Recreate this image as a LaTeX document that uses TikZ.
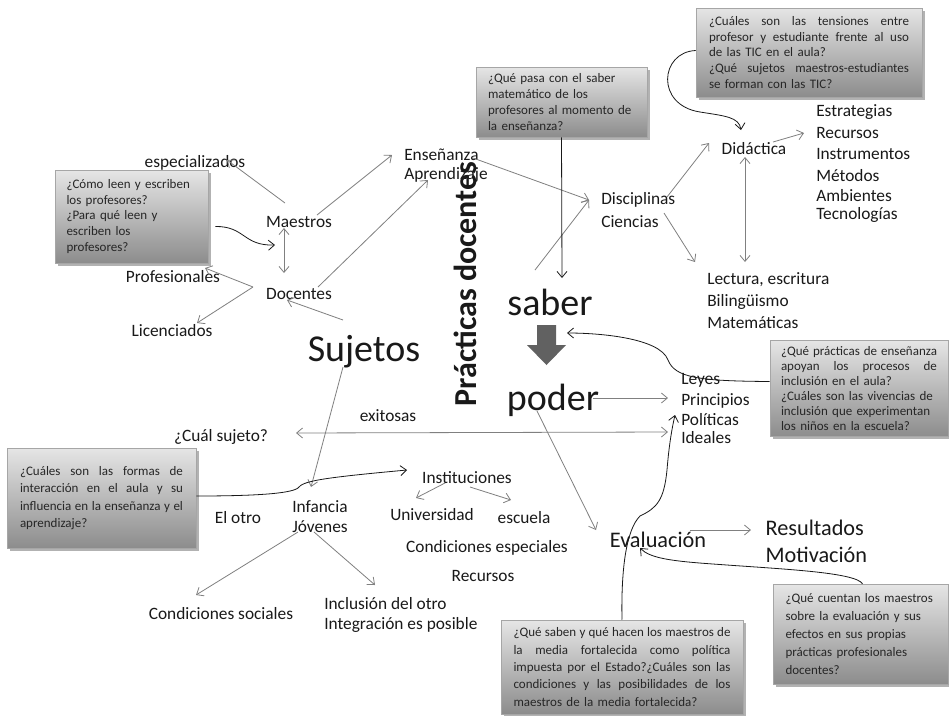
\documentclass[tikz,border=0pt]{standalone}
\usepackage{fontspec}
\setmainfont{Carlito}
\usepackage{tikz}
\usetikzlibrary{arrows.meta}
\usetikzlibrary{calc}
\newcommand{\jline}[2]{{\spaceskip=0pt\xspaceskip=0pt\relax\makebox[#1][s]{#2}}}

\begin{document}
\begin{tikzpicture}[x=0.75pt,y=0.75pt,yscale=-1,xscale=1,
  >={Straight Barb[length=4.5pt,width=7.5pt]},
  lbl/.style={inner sep=0pt, text=black!90, font=\fontsize{13}{15.6}\selectfont},
  big/.style={inner sep=1pt, text=black!90, font=\fontsize{28.5}{32}\selectfont},
  mid/.style={inner sep=1pt, text=black!90, font=\fontsize{16.7}{20}\selectfont},
  qbox/.style={draw=black!35, line width=0.4pt, top color=black!10, bottom color=black!45, preaction={fill=black!50, opacity=0.6, transform canvas={xshift=2.2pt,yshift=-2.2pt}}, inner sep=0pt, align=left, text=black!85},
  conn/.style={draw=black!50, line width=0.6pt, ->},
  curv/.style={draw=black!90, line width=0.6pt, ->}
]
\useasboundingbox (0,0) rectangle (949,715);
\fill [white] (0,0) rectangle (949,715);

% Text Node
\node [lbl] (espec) at (195,163) {especializados};
\node [lbl] (maestros) at (299,222) {Maestros};
\node [lbl] (docentes) at (299,294) {Docentes};
\node [lbl] (profes) at (173,277) {Profesionales};
\node [lbl] (licen) at (172,331) {Licenciados};
\node [big] (sujetos) at (364,352) {Sujetos};
% Text Node
\node [lbl, anchor=west] (ensen) at (404,155) {Enseñanza};
\node [lbl, anchor=west] (aprend) at (404,175) {Aprendizaje};
\node [lbl, anchor=west] (discip) at (601,200) {Disciplinas};
\node [lbl, anchor=west] (cienc) at (601,222) {Ciencias};
\node [lbl] (didac) at (754,149) {Didáctica};
% Text Node
\node [lbl, anchor=west] (estrat) at (816,112) {Estrategias};
\node [lbl, anchor=west] (recur) at (816,133) {Recursos};
\node [lbl, anchor=west] (instru) at (816,154) {Instrumentos};
\node [lbl, anchor=west] (metod) at (816,176) {Métodos};
\node [lbl, anchor=west] (ambien) at (816,196) {Ambientes};
\node [lbl, anchor=west] (tecno) at (816,215) {Tecnologías};
% Text Node
\node [lbl, anchor=west] (lectura) at (707,280) {Lectura, escritura};
\node [lbl, anchor=west] (biling) at (707,302) {Bilingüismo};
\node [lbl, anchor=west] (matem) at (707,323) {Matemáticas};
% Text Node
\node [big] (saber) at (550,302) {saber};
\node [big] (poder) at (553,400) {poder};
\node [inner sep=1pt, rotate=90, text=black!90, font=\bfseries\fontsize{24}{28}\selectfont] (practicas) at (465,284) {Prácticas docentes};
% Text Node
\node [lbl, anchor=west] (leyes) at (681,380) {Leyes};
\node [lbl, anchor=west] (princ) at (681,401) {Principios};
\node [lbl, anchor=west] (polit) at (681,420) {Políticas};
\node [lbl, anchor=west] (ideal) at (681,438) {Ideales};
% Text Node
\node [lbl] (cual) at (221,437) {¿Cuál sujeto?};
\node [lbl] (exitosas) at (388,416) {exitosas};
\node [lbl] (instit) at (467,478) {Instituciones};
\node [lbl] (univ) at (432,515) {Universidad};
\node [lbl] (escuela) at (524,518) {escuela};
\node [lbl] (condesp) at (487,548) {Condiciones especiales};
\node [lbl] (recursos) at (483,576) {Recursos};
% Text Node
\node [lbl] (elotro) at (238,518) {El otro};
\node [lbl, anchor=west] (infan) at (292,507) {Infancia};
\node [lbl, anchor=west] (jovenes) at (292,527) {Jóvenes};
\node [lbl] (condsoc) at (221,614) {Condiciones sociales};
\node [lbl, anchor=west] (inclus) at (324,604) {Inclusión del otro};
\node [lbl, anchor=west] (integ) at (324,625) {Integración es posible};
% Text Node
\node [mid] (evalu) at (658,540) {Evaluación};
\node [mid, anchor=west] (result) at (764,528) {Resultados};
\node [mid, anchor=west] (motiv) at (764,555) {Motivación};

%Shape: Rectangle [question boxes]
\node [qbox, minimum width=114.75pt, minimum height=69.75pt, text width=97.5pt, font=\fontsize{9.75}{11.8}\selectfont] (qleer) at (131.5,216.5) {¿Cómo leen y escriben\\los profesores?\\¿Para qué leen y\\escriben los\\profesores?};
\node [qbox, minimum width=128.25pt, minimum height=52.5pt, text width=110.25pt, font=\fontsize{9.75}{11.8}\selectfont] (qsaber) at (561.5,102) {¿Qué pasa con el saber\\matemático de los\\profesores al momento de\\la enseñanza?};
\node [qbox, minimum width=169.5pt, minimum height=66.75pt, text width=150pt, font=\fontsize{9.75}{11.8}\selectfont] (qtic) at (809,52.5) {\jline{150pt}{¿Cuáles son las tensiones entre}\\\jline{150pt}{profesor y estudiante frente al uso}\\de las TIC en el aula?\\\jline{150pt}{¿Qué sujetos maestros-estudiantes}\\se forman con las TIC?};
\node [qbox, minimum width=133.5pt, minimum height=72pt, text width=117pt, font=\fontsize{9.75}{11.3}\selectfont] (qinclu) at (859,388.5) {\jline{117pt}{¿Qué prácticas de enseñanza}\\\jline{117pt}{apoyan los procesos de}\\inclusión en el aula?\\¿Cuáles son las vivencias de\\inclusión que experimentan\\los niños en la escuela?};
\node [qbox, minimum width=141.75pt, minimum height=75pt, text width=122.25pt, font=\fontsize{9.75}{13.2}\selectfont] (qinter) at (101.5,498) {\jline{122.25pt}{¿Cuáles son las formas de}\\\jline{122.25pt}{interacción en el aula y su}\\\jline{122.25pt}{influencia en la enseñanza y el}\\aprendizaje?};
\node [qbox, minimum width=181.5pt, minimum height=70.5pt, text width=162.75pt, font=\fontsize{9.75}{13}\selectfont] (qmedia) at (622,667) {\jline{162.75pt}{¿Qué saben y qué hacen los maestros de}\\\jline{162.75pt}{la media fortalecida como política}\\\jline{162.75pt}{impuesta por el Estado?¿Cuáles son las}\\\jline{162.75pt}{condiciones y las posibilidades de los}\\maestros de la media fortalecida?};
\node [qbox, minimum width=131.25pt, minimum height=75pt, text width=112.5pt, font=\fontsize{9.75}{13.5}\selectfont] (qeval) at (860.5,634) {¿Qué cuentan los maestros\\sobre la evaluación y sus\\efectos en sus propias\\prácticas profesionales\\docentes?};

%Shape: Down Arrow [saber to poder]
\fill [black!62] (537,325) -- (556,325) -- (556,345) -- (566,345) -- (546.5,365) -- (527,345) -- (537,345) -- cycle;
\coordinate (bigtip) at (567,333);

%Straight Lines
\draw [conn] ($(maestros)+(-14,-19)$) -- ($(espec)+(32,-3)$);
\draw [conn] ($(maestros)+(18,-7)$) -- ($(ensen.west)+(-12,0)$);
\draw [conn, <->] ($(maestros)+(-15,6)$) -- ($(docentes)+(-15,-21)$);
\draw [conn] ($(docentes)+(-46,-7)$) -- ($(profes)+(32,-9)$);
\draw [conn] ($(docentes)+(-46,-7)$) -- ($(licen)+(25,-8)$);
\draw [conn] ($(docentes)+(19,-7)$) -- ($(aprend.west)+(24,5)$);
\draw [conn] ($(sujetos)+(-21,-32)$) -- ($(docentes)+(-12,6)$);
\draw [conn] ($(sujetos)+(-21,15)$) -- ($(infan.west)+(19,-20)$);
\draw [conn] ($(ensen.west)+(69,3)$) -- ($(discip.west)+(-12,0)$);
\draw [conn] ($(saber)+(-15,-32)$) -- ($(discip.west)+(-12,0)$);
\draw [conn] ($(discip.west)+(66,-3)$) -- ($(didac)+(-45,-6)$);
\draw [conn] ($(discip.west)+(63,13)$) -- ($(lectura.west)+(-12,-18)$);
\draw [conn] ($(didac)+(19,-7)$) -- ($(recur.west)+(-12,0)$);
\draw [conn, <->] ($(didac)+(-9,8)$) -- ($(lectura.west)+(38,-18)$);
\draw [conn] ($(poder)+(40,-2)$) -- ($(princ.west)+(-13,-3)$);
\draw [conn, <->] ($(cual)+(75,-4)$) -- ($(polit.west)+(-13,12)$);
\draw [conn] ($(instit)+(-22,5)$) -- ($(univ)+(-16,-17)$);
\draw [conn] ($(instit)+(3,9)$) -- ($(escuela)+(-13,-18)$);
\draw [conn] ($(jovenes.west)+(6,5)$) -- ($(condsoc)+(-25,-19)$);
\draw [conn] ($(jovenes.west)+(22,5)$) -- ($(inclus.west)+(51,-19)$);
\draw [conn] ($(poder)+(-16,11)$) -- ($(evalu)+(-62,-10)$);
\draw [conn] ($(evalu)+(32,-10)$) -- ($(result.west)+(-13,2)$);

%Curve Lines
\draw [curv] (qsaber.south) -- ($(saber)+(12,-24)$);
\draw [curv] ($(qtic.west)+(0,-2)$) .. controls (660,52) and (655,105) .. (700,112) .. controls (725,116) and (739,117) .. ($(didac)+(-13,-19)$);
\draw [curv] ($(qleer.east)+(7,10)$) .. controls (245,226) and (243,246) .. ($(maestros)+(-24,23)$);
\draw [curv] ($(qinclu.west)+(0,-7)$) .. controls (700,381) and (675,378) .. (668,360) .. controls (660,338) and (600,333) .. (bigtip);
\draw [curv] ($(qinter.east)+(0,-2)$) .. controls (250,496) and (290,494) .. (298,488) .. controls (303,481) and (320,478) .. ($(instit)+(-60,-8)$);
\draw [curv] (qmedia.north) .. controls (621,570) and (626,530) .. (640,516) .. controls (657,508) and (664,500) .. (667,470) .. controls (669,445) and (672,428) .. ($(polit.west)+(-6,-5)$);
\draw [curv] ($(qeval.north)+(2,0)$) .. controls (855,572) and (780,569) .. (713,564) .. controls (670,561) and (650,558) .. ($(evalu)+(-18,8)$);

\end{tikzpicture}
\end{document}
